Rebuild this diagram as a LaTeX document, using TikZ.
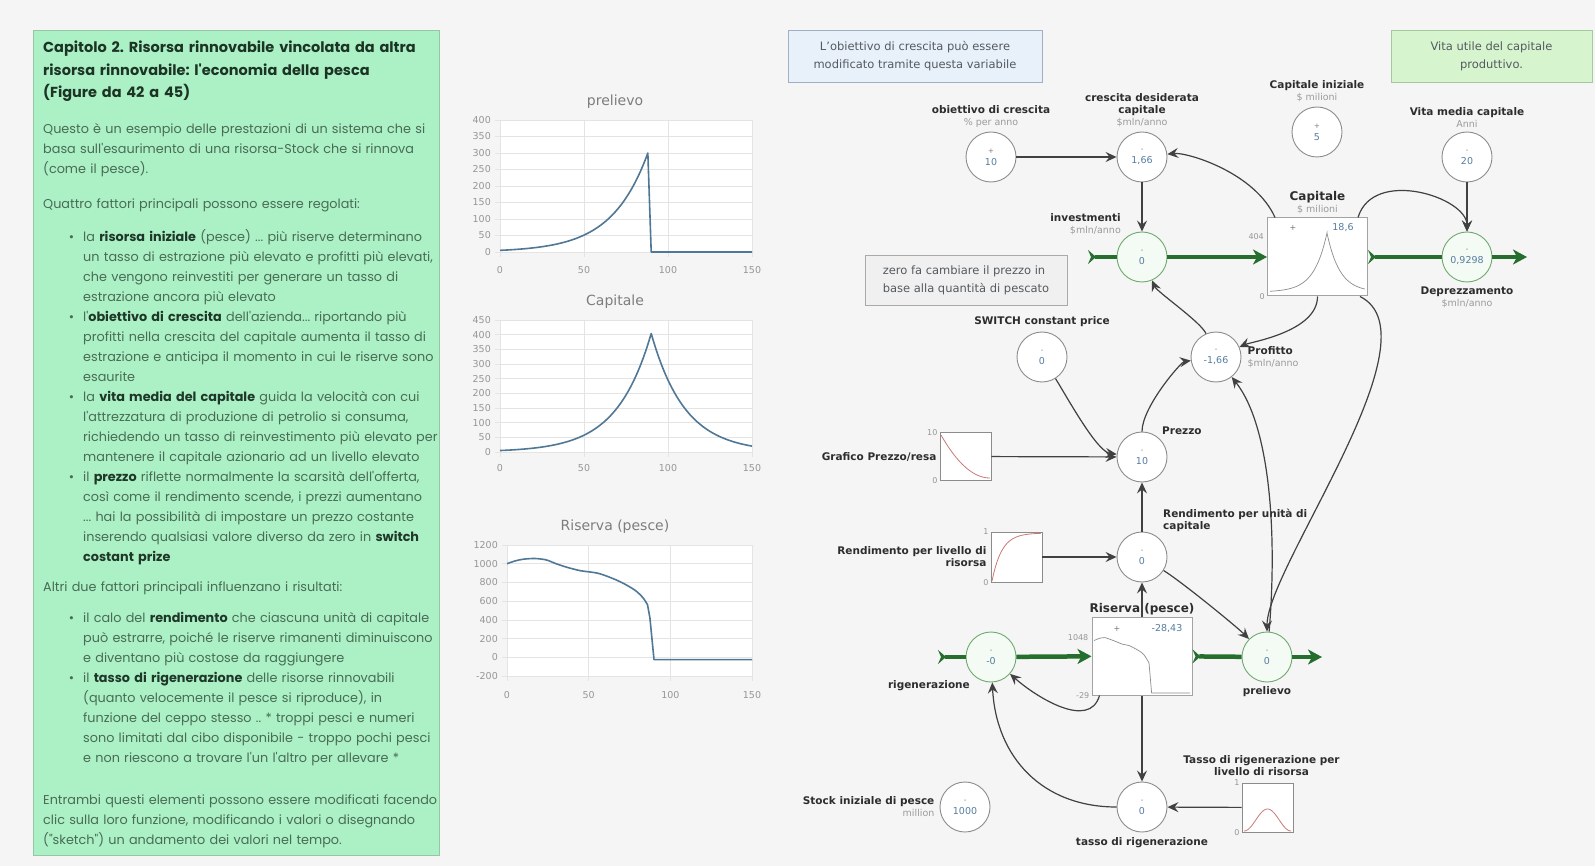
\documentclass[tikz,border=0pt]{standalone}
\usepackage{fontspec}
\setmainfont{DejaVu Sans}
\newfontfamily\panelfont{Poppins}
\usetikzlibrary{shapes.geometric, arrows.meta, positioning}
\frenchspacing

\definecolor{bggrey}{RGB}{245,245,245}
\definecolor{panelfill}{RGB}{172,240,198}
\definecolor{paneldraw}{RGB}{150,198,165}
\definecolor{titletext}{RGB}{28,52,36}
\definecolor{bodytext}{RGB}{72,108,84}
\definecolor{boldtext}{RGB}{30,55,40}
\definecolor{plotblue}{RGB}{80,120,150}
\definecolor{gridgrey}{RGB}{228,228,228}
\definecolor{ticktext}{RGB}{150,150,150}
\definecolor{titlegrey}{RGB}{125,125,125}
\definecolor{nodegrey}{RGB}{140,140,140}
\definecolor{flowgreen}{RGB}{110,170,110}
\definecolor{flowfill}{RGB}{244,250,244}
\definecolor{pipegreen}{RGB}{38,110,45}
\definecolor{linkgrey}{RGB}{65,65,65}
\definecolor{lbltext}{RGB}{45,45,45}
\definecolor{unitgrey}{RGB}{155,155,155}
\definecolor{valblue}{RGB}{85,125,160}
\definecolor{signgrey}{RGB}{120,120,120}
\definecolor{sketchred}{RGB}{200,120,120}
\definecolor{bluefill}{RGB}{232,240,250}
\definecolor{bluedraw}{RGB}{160,175,195}
\definecolor{greenfill}{RGB}{214,245,206}
\definecolor{greendraw}{RGB}{165,200,160}
\definecolor{notegrey}{RGB}{240,240,240}
\definecolor{notedraw}{RGB}{170,170,170}
\definecolor{notetext}{RGB}{85,90,95}

\newcommand{\cv}[2][-]{{\color{signgrey}\fontsize{7}{7}\selectfont #1}\\[1pt]{\color{valblue}#2}}
\newcommand{\un}[1]{{\mdseries\color{unitgrey}\fontsize{9.5}{12}\selectfont #1}}
\newcommand{\bt}[1]{{\bfseries\color{boldtext}#1}}
\newcommand{\bul}{\leavevmode\llap{\textbullet\hspace{9pt}}}

\begin{document}
\begin{tikzpicture}[x=1pt, y=-1pt, every node/.style={inner sep=0pt}]

% Define styles for the panel, the charts and the model
\tikzstyle{panelbox} = [rectangle, draw=paneldraw, fill=panelfill, line width=0.8pt]
\tikzstyle{headtext} = [anchor=base west, align=left, text width=420pt, font=\panelfont\bfseries\fontsize{14.5}{22.5}\selectfont, text=titletext]
\tikzstyle{bodytxt} = [anchor=base west, align=left, text width=420pt, font=\panelfont\fontsize{12.8}{20}\selectfont, text=bodytext]
\tikzstyle{listtxt} = [bodytxt, text width=400pt]
\tikzstyle{charttitle} = [font=\fontsize{14}{16}\selectfont, text=titlegrey]
\tikzstyle{ticklbl} = [font=\fontsize{9.5}{10}\selectfont, text=ticktext]
\tikzstyle{gridline} = [draw=gridgrey, line width=0.6pt]
\tikzstyle{series} = [draw=plotblue, line width=1.6pt, line join=round]
\tikzstyle{note} = [rectangle, align=center, font=\fontsize{11.5}{18}\selectfont, text=notetext, line width=0.8pt]
\tikzstyle{aux} = [circle, draw=nodegrey, fill=white, line width=0.9pt, minimum size=50pt, align=center, font=\fontsize{9.5}{11}\selectfont]
\tikzstyle{valve} = [aux, draw=flowgreen, fill=flowfill]
\tikzstyle{stock} = [rectangle, draw=nodegrey!80, fill=white, line width=1pt, minimum width=100pt, minimum height=78pt]
\tikzstyle{lookup} = [rectangle, draw=nodegrey, fill=white, line width=0.8pt, minimum width=51pt, minimum height=48pt]
\tikzstyle{lbl} = [align=center, font=\bfseries\fontsize{10.5}{12}\selectfont, text=lbltext]
\tikzstyle{axlbl} = [font=\fontsize{8}{9}\selectfont, text=ticktext]
\tikzstyle{stockval} = [font=\fontsize{9.5}{11}\selectfont, text=valblue]
\tikzstyle{sketch} = [draw=sketchred, line width=0.8pt]
\tikzstyle{minicurve} = [draw=nodegrey, line width=0.7pt]
\tikzstyle{pipe} = [draw=pipegreen, line width=4.5pt]
\tikzstyle{pipein} = [pipe, -{Stealth[length=14pt, width=15pt, inset=4pt]}]
\tikzstyle{pipetail} = [pipe, {Stealth[reversed, length=8pt, width=14pt, inset=3pt]}-]
\tikzstyle{link} = [draw=linkgrey, line width=1.2pt, -{Stealth[length=11pt, width=10pt, inset=4pt]}]

\fill[bggrey] (0,0) rectangle (1595,866);
\useasboundingbox (0,0) rectangle (1595,866);

% Description panel
\node (panel) [panelbox, anchor=north west, minimum width=406pt, minimum height=825pt] at (33,30) {};
\node (title) [headtext] at (43,53) {Capitolo 2. Risorsa rinnovabile vincolata da altra\\risorsa rinnovabile: l'economia della pesca\\(Figure da 42 a 45)};
\node (intro) [bodytxt] at (43,134) {Questo è un esempio delle prestazioni di un sistema che si\\basa sull'esaurimento di una risorsa-Stock che si rinnova\\(come il pesce).};
\node (four) [bodytxt] at (43,209) {Quattro fattori principali possono essere regolati:};
\node (fourList) [listtxt] at (83,242) {\bul la \bt{risorsa iniziale} (pesce) ... più riserve determinano\\
un tasso di estrazione più elevato e profitti più elevati,\\
che vengono reinvestiti per generare un tasso di\\
estrazione ancora più elevato\\
\bul l'\bt{obiettivo di crescita} dell'azienda... riportando più\\
profitti nella crescita del capitale aumenta il tasso di\\
estrazione e anticipa il momento in cui le riserve sono\\
esaurite\\
\bul la \bt{vita media del capitale} guida la velocità con cui\\
l'attrezzatura di produzione di petrolio si consuma,\\
richiedendo un tasso di reinvestimento più elevato per\\
mantenere il capitale azionario ad un livello elevato\\
\bul il \bt{prezzo} riflette normalmente la scarsità dell'offerta,\\
così come il rendimento scende, i prezzi aumentano\\
... hai la possibilità di impostare un prezzo costante\\
inserendo qualsiasi valore diverso da zero in \bt{switch}\\
\bt{costant prize}};
\node (two) [bodytxt] at (43,591) {Altri due fattori principali influenzano i risultati:};
\node (twoList) [listtxt] at (83,622) {\bul il calo del \bt{rendimento} che ciascuna unità di capitale\\
può estrarre, poiché le riserve rimanenti diminuiscono\\
e diventano più costose da raggiungere\\
\bul il \bt{tasso di rigenerazione} delle risorse rinnovabili\\
(quanto velocemente il pesce si riproduce), in\\
funzione del ceppo stesso .. * troppi pesci e numeri\\
sono limitati dal cibo disponibile - troppo pochi pesci\\
e non riescono a trovare l'un l'altro per allevare *};
\node (both) [bodytxt] at (43,804) {Entrambi questi elementi possono essere modificati facendo\\clic sulla loro funzione, modificando i valori o disegnando\\("sketch") un andamento dei valori nel tempo.};

% Chart: prelievo
\node (chPrelTitle) [charttitle] at (615,102) {prelievo};
\fill[white] (500,120) rectangle (752,252);
\foreach \v [count=\i from 0] in {0,50,...,400} {
  \draw[gridline] (495,{252-16.5*\i}) -- (752,{252-16.5*\i});
  \node (chPrelY\i) [ticklbl, anchor=east] at (491,{252-16.5*\i}) {\v};
}
\foreach \t [count=\i from 0] in {0,50,100,150} {
  \draw[gridline] ({500+84*\i},120) -- ({500+84*\i},257);
  \node (chPrelX\i) [ticklbl] at ({500+84*\i},270) {\t};
}
\draw[series] plot[domain=0:88, samples=60] ({500+1.68*\x},{252-1.65*exp(0.04653*\x)}) -- (651.2,252) -- (752,252);

% Chart: Capitale
\node (chCapTitle) [charttitle] at (615,302) {Capitale};
\fill[white] (500,320) rectangle (752,452);
\foreach \v [count=\i from 0] in {0,50,...,450} {
  \draw[gridline] (495,{452-14.667*\i}) -- (752,{452-14.667*\i});
  \node (chCapY\i) [ticklbl, anchor=east] at (491,{452-14.667*\i}) {\v};
}
\foreach \t [count=\i from 0] in {0,50,100,150} {
  \draw[gridline] ({500+84*\i},320) -- ({500+84*\i},457);
  \node (chCapX\i) [ticklbl] at ({500+84*\i},468) {\t};
}
\draw[series] plot[domain=0:90, samples=60] ({500+1.68*\x},{452-1.4667*exp(0.0488*\x)}) -- plot[domain=90:150, samples=40] ({500+1.68*\x},{452-118.5*exp(-0.05*(\x-90))});

% Chart: Riserva (pesce)
\node (chRisTitle) [charttitle] at (615,527) {Riserva (pesce)};
\fill[white] (507,545) rectangle (752,676);
\foreach \v [count=\i from 0] in {-200,0,...,1200} {
  \draw[gridline] (502,{676-18.714*\i}) -- (752,{676-18.714*\i});
  \node (chRisY\i) [ticklbl, anchor=east] at (498,{676-18.714*\i}) {\v};
}
\foreach \t [count=\i from 0] in {0,50,100,150} {
  \draw[gridline] ({507+81.67*\i},545) -- ({507+81.67*\i},681);
  \node (chRisX\i) [ticklbl] at ({507+81.67*\i},695) {\t};
}
\draw[series] plot[smooth, tension=0.5] coordinates {(507,563.7) (515.2,560.9) (523.3,559.2) (534.8,558.5) (546.2,559.9) (556,563.7) (567.4,567.4) (580.5,570.7) (596.8,573) (608.3,576.7) (621.3,582.3) (634.4,589.8) (642.6,597.3) (647.5,604.7)} -- (649.9,617.8) -- (654,659.6) -- (752,659.6);

% Notes
\node (noteGoal) [note, fill=bluefill, draw=bluedraw, minimum width=254pt, minimum height=52pt] at (915,56) {L'obiettivo di crescita può essere\\modificato tramite questa variabile};
\node (noteLife) [note, fill=greenfill, draw=greendraw, minimum width=201pt, minimum height=52pt] at (1491.5,56) {Vita utile del capitale\\produttivo.};
\node (notePrice) [note, align=left, fill=notegrey, draw=notedraw, minimum width=202pt, minimum height=50pt] at (966,280) {zero fa cambiare il prezzo in\\base alla quantità di pescato};

% Nodes
\node (obj) [aux] at (991,157) {\cv[+]{10}};
\node (cres) [aux] at (1142,157) {\cv{1,66}};
\node (inv) [valve] at (1142,257) {\cv{0}};
\node (capIni) [aux] at (1317,132) {\cv[+]{5}};
\node (vita) [aux] at (1467,157) {\cv{20}};
\node (depr) [valve] at (1467,257) {\cv{0,9298}};
\node (cap) [stock] at (1317.5,257) {};
\node (prof) [aux] at (1216,357) {\cv{-1,66}};
\node (switch) [aux] at (1042,357) {\cv{0}};
\node (prezzo) [aux] at (1142,457) {\cv{10}};
\node (grafico) [lookup] at (965.5,456.5) {};
\node (rendU) [aux] at (1142,557) {\cv{0}};
\node (rendL) [lookup, minimum height=50pt] at (1016.5,557) {};
\node (ris) [stock] at (1142,656) {};
\node (rig) [valve] at (991,657) {\cv{-0}};
\node (prel) [valve] at (1267,657) {\cv{0}};
\node (tasso) [aux] at (1142,807) {\cv{0}};
\node (tassoL) [lookup, minimum height=49pt] at (1267.5,807.5) {};
\node (stockIni) [aux] at (965,807) {\cv{1000}};

% Labels
\node (objLbl) [lbl, above=4pt of obj] {obiettivo di crescita\\\un{\% per anno}};
\node (cresLbl) [lbl, above=4pt of cres] {crescita desiderata\\capitale\\\un{\$mln/anno}};
\node (invLbl) [lbl, align=right, above left=4pt and 3pt of inv] {investmenti\\\un{\$mln/anno}};
\node (capIniLbl) [lbl, above=4pt of capIni] {Capitale iniziale\\\un{\$ milioni}};
\node (vitaLbl) [lbl, above=4pt of vita] {Vita media capitale\\\un{Anni}};
\node (deprLbl) [lbl, below=4pt of depr] {Deprezzamento\\\un{\$mln/anno}};
\node (capLbl) [lbl, font=\bfseries\fontsize{12}{12}\selectfont, above=3pt of cap] {Capitale\\\un{\$ milioni}};
\node (profLbl) [lbl, align=left, right=6pt of prof] {Profitto\\\un{\$mln/anno}};
\node (switchLbl) [lbl, above=5pt of switch] {SWITCH constant price};
\node (prezzoLbl) [lbl, above right=4pt and 2pt of prezzo] {Prezzo};
\node (grLbl) [lbl, left=3pt of grafico] {Grafico Prezzo/resa};
\node (rendULbl) [lbl, align=left, above right=7pt and 3pt of rendU] {Rendimento per unità di\\capitale};
\node (rendLLbl) [lbl, align=right, left=4pt of rendL] {Rendimento per livello di\\risorsa};
\node (risLbl) [lbl, font=\bfseries\fontsize{12}{12}\selectfont, above=1pt of ris] {Riserva (pesce)};
\node (rigLbl) [lbl, below left=5pt and 3pt of rig] {rigenerazione};
\node (prelLbl) [lbl, below=4pt of prel] {prelievo};
\node (tassoLbl) [lbl, below=5pt of tasso] {tasso di rigenerazione};
\node (tassoLLbl) [lbl, above=7pt of tassoL, xshift=-6pt] {Tasso di rigenerazione per\\livello di risorsa};
\node (stockIniLbl) [lbl, align=right, left=5pt of stockIni] {Stock iniziale di pesce\\\un{million}};

% Stock and lookup contents
\node (capMax) [axlbl, anchor=east] at ([xshift=-3pt, yshift=20pt]cap.west) {404};
\node (capMin) [axlbl, anchor=east] at ([xshift=-2pt]cap.south west) {0};
\node (capSign) [axlbl, text=signgrey] at (1293,228) {+};
\node (capVal) [stockval] at (1343,228) {18,6};
\draw[minicurve] plot[domain=0:90, samples=40] ({1270+0.633*\x},{292-59*exp(0.0488*(\x-90))}) -- plot[domain=90:150, samples=30] ({1270+0.633*\x},{292-59*exp(-0.05*(\x-90))});
\node (risMax) [axlbl, anchor=east] at ([xshift=-3pt, yshift=18pt]ris.west) {1048};
\node (risMin) [axlbl, anchor=east] at ([xshift=-2pt]ris.south west) {-29};
\node (risSign) [axlbl, text=signgrey] at (1117,629) {+};
\node (risVal) [stockval] at (1167,629) {-28,43};
\draw[minicurve] plot[smooth, tension=0.5] coordinates {(1094,640.5) (1100.4,638) (1104.9,637.6) (1113.2,640.5) (1122.8,644.3) (1129.2,645.6) (1138.8,650.7) (1143.9,654.7) (1149,662.9)} -- (1151.6,692.9) -- (1190,692.9);
\node (grMax) [axlbl, anchor=east] at ([xshift=-2pt]grafico.north west) {10};
\node (grMin) [axlbl, anchor=east] at ([xshift=-2pt]grafico.south west) {0};
\draw[sketch] plot[domain=0:1, samples=30] ({941+49*\x},{478-43*(1-\x)^2});
\node (rendLMax) [axlbl, anchor=east] at ([xshift=-2pt]rendL.north west) {1};
\node (rendLMin) [axlbl, anchor=east] at ([xshift=-2pt]rendL.south west) {0};
\draw[sketch] plot[domain=0:1, samples=30] ({992+49*\x},{581-48*(1-exp(-5*\x))});
\node (tassoLMax) [axlbl, anchor=east] at ([xshift=-2pt]tassoL.north west) {1};
\node (tassoLMin) [axlbl, anchor=east] at ([xshift=-2pt]tassoL.south west) {0};
\draw[sketch] plot[domain=0:1, samples=40] ({1244+47*\x},{831-22*(sin(180*\x))^2});

% Flows
\coordinate (invSrc) at (1088,257);
\coordinate (deprOut) at (1527,257);
\coordinate (rigSrc) at (938,657);
\coordinate (prelOut) at (1322,657);
\draw[pipetail] (invSrc) -- (inv);
\draw[pipein] (inv) -- (cap);
\draw[pipetail] (cap) -- (depr);
\draw[pipein] (depr) -- (deprOut);
\draw[pipetail] (rigSrc) -- (rig);
\draw[pipein] (rig) -- (ris);
\draw[pipetail] (ris) -- (prel);
\draw[pipein] (prel) -- (prelOut);

% Arrows
\draw[link] (obj) -- (cres);
\draw[link] ([xshift=8pt]cap.north west) .. controls +(-20,-45) and +(45,-5) .. (cres);
\draw[link] (cres) -- (inv);
\draw[link] (prof) .. controls +(-15,-35) and +(15,35) .. (inv);
\draw[link] ([xshift=-10pt]cap.north east) .. controls +(15,-50) and +(0,-60) .. (depr);
\draw[link] (vita) -- (depr);
\draw[link] (cap.south) .. controls +(0,35) and +(35,-15) .. (prof);
\draw[link] ([xshift=-8pt]cap.south east) .. controls +(80,40) and +(0,-90) .. (prel);
\draw[link] (prel) .. controls +(10,-120) and +(55,70) .. (prof);
\draw[link] (prezzo) .. controls +(0,-50) and +(-35,5) .. (prof);
\draw[link] (switch) .. controls +(25,40) and +(-45,-5) .. (prezzo);
\draw[link] (grafico) -- (prezzo);
\draw[link] (rendU) -- (prezzo);
\draw[link] (rendL) -- (rendU);
\draw[link] (ris) -- (rendU);
\draw[link] (rendU) .. controls +(40,25) and +(-30,-30) .. (prel);
\draw[link] ([xshift=8pt]ris.south west) .. controls +(-10,35) and +(45,40) .. (rig);
\draw[link] (ris) -- (tasso);
\draw[link] (tasso) .. controls +(-100,0) and +(5,100) .. (rig);
\draw[link] (tassoL) -- (tasso);

\end{tikzpicture}
\end{document}
